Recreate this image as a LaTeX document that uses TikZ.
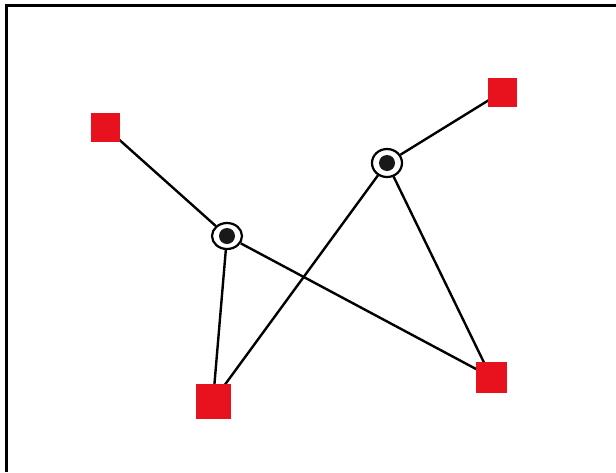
\documentclass[tikz,border=0pt]{standalone}
\usetikzlibrary{shapes.geometric,backgrounds}
\definecolor{marker}{RGB}{232,18,30}
\begin{document}
\begin{tikzpicture}[x=1pt,y=-1pt,
  sq/.style={draw=marker,fill=marker,line width=1pt,minimum width=#1,minimum height=#1,inner sep=0pt,rectangle},
  hub/.style={draw=black,line width=2.2pt,ellipse,minimum width=30pt,minimum height=26pt,inner sep=0pt,
     path picture={\fill[black!90] (path picture bounding box.center) circle (8pt);}},
  edge/.style={draw=black,line width=2.4pt}]
\useasboundingbox (0,0) rectangle (616,472);
\node[sq=28pt] (s1) at (105,127) {};
\node[sq=28pt] (s2) at (502,92) {};
\node[sq=34pt] (s3) at (213,401) {};
\node[sq=30pt] (s4) at (491,377) {};
\node[hub] (a) at (227,236) {};
\node[hub,minimum height=28pt] (b) at (387,163) {};
\begin{scope}[on background layer]
\fill[white] (0,0) rectangle (616,472);
\draw[line width=2.6pt] (6.5,472) -- (6.5,5.5) -- (616,5.5);
\draw[edge] (s1.center) -- (a);
\draw[edge] (a) -- (s3.center);
\draw[edge] (a) -- (s4.center);
\draw[edge] (b) -- (s2.center);
\draw[edge] (b) -- (s3.center);
\draw[edge] (b) -- (s4.center);
\end{scope}
\end{tikzpicture}
\end{document}
